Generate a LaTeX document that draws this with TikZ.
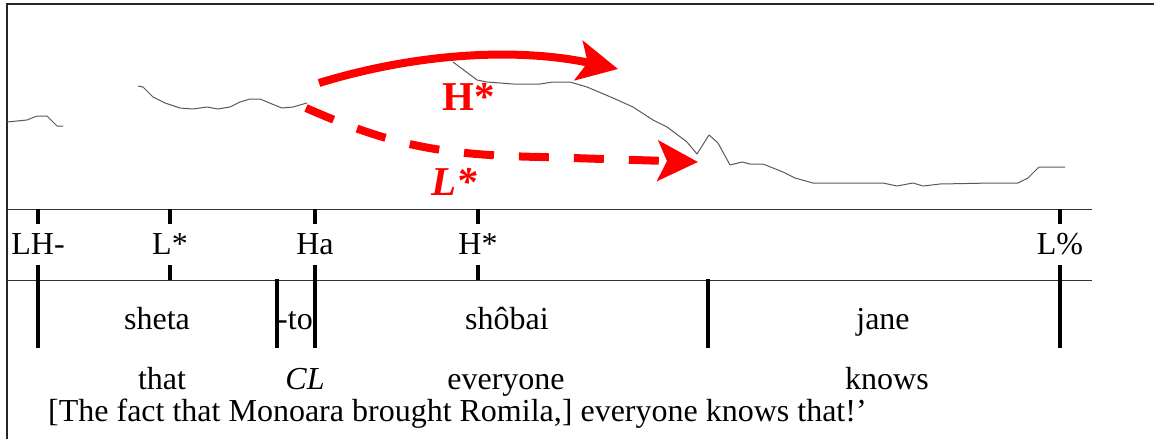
\documentclass[tikz,border=0pt]{standalone}
\usepackage{fontspec}
\setmainfont{Liberation Serif}
\usetikzlibrary{arrows.meta}
\begin{document}
\begin{tikzpicture}[x=1pt,y=-1pt,
  lbl/.style={anchor=base,inner sep=0pt,font=\fontsize{32}{36}\selectfont},
  tone/.style={lbl},
  bar/.style={line width=3.5pt,black},
  tier/.style={line width=1pt,black!80},
  contour/.style={line width=1pt,black!65,line join=round},
  redarrow/.style={red,line width=8pt,-{Stealth[length=40pt,width=40pt,inset=9pt]}},
  redlbl/.style={anchor=base,inner sep=0pt,red,font=\fontsize{41}{44}\selectfont\bfseries}]
\useasboundingbox (0,0) rectangle (1154,439);
% frame
\draw[line width=2pt,black!85] (7,439) -- (7,4) -- (1154,4);
% tiers
\draw[tier] (7,209) -- (1092,209);
\draw[tier] (7,280) -- (1092,280);
% pitch contour
\draw[contour] (7,122) -- (27,120) -- (37,116) -- (47,116) -- (57,126) -- (63,126);
\draw[contour] (138,86) -- (143,87) -- (153,97) -- (165,103) -- (180,108) -- (193,109) -- (207,107) -- (218,109) -- (230,107) -- (240,102) -- (250,99) -- (260,99) -- (272,104) -- (282,108) -- (293,107) -- (307,103);
\draw[contour] (453,62) -- (477,80) -- (487,82) -- (513,84) -- (540,84) -- (553,82) -- (570,82) -- (587,87) -- (613,98) -- (633,107) -- (653,120) -- (667,127) -- (687,142) -- (697,154) -- (709,135) -- (718,143) -- (730,165) -- (742,162) -- (750,164) -- (763,164) -- (783,172) -- (795,178) -- (813,183) -- (883,183) -- (897,186) -- (913,183) -- (923,186) -- (940,184) -- (993,183) -- (1018,183) -- (1028,178) -- (1039,167) -- (1065,167);
% tone labels
\node[tone] (tLH) at (38,254) {LH-};
\node[tone] (tL) at (170,254) {L*};
\node[tone] (tHa) at (315,254) {Ha};
\node[tone] (tH) at (478,254) {H*};
\node[tone] (tLp) at (1060,254) {L\%};
% upper ticks
\foreach \n/\x in {tLH/38,tL/170,tHa/315,tH/478,tLp/1060}{
  \coordinate (\n-a) at (\x,209);
  \coordinate (\n-b) at (\x,224);
  \draw[bar] (\n-a) -- (\n-b);
}
% lower ticks (short)
\foreach \n/\x in {tL/170,tH/478}{
  \coordinate (\n-c) at (\x,265);
  \coordinate (\n-d) at (\x,280);
  \draw[bar] (\n-c) -- (\n-d);
}
% long bars
\foreach \n/\x in {tLH/38,tHa/315,tLp/1060}{
  \coordinate (\n-c) at (\x,265);
  \coordinate (\n-e) at (\x,348);
  \draw[bar] (\n-c) -- (\n-e);
}
\foreach \n/\x in {wto/277,wjane/708}{
  \coordinate (\n-top) at (\x,279);
  \coordinate (\n-bot) at (\x,348);
  \draw[bar] (\n-top) -- (\n-bot);
}
% words
\node[lbl] (sheta) at (157,329) {sheta};
\node[lbl,anchor=base west] (to) at (277,329) {-to};
\node[lbl] (shobai) at (507,329) {shôbai};
\node[lbl] (jane) at (883,329) {jane};
\node[lbl] (that) at (162,389) {that};
\node[lbl] (cl) at (305,389) {\itshape CL};
\node[lbl] (everyone) at (506,389) {everyone};
\node[lbl] (knows) at (887,389) {knows};
\node[lbl,anchor=base west] (trans) at (48,421) {[The fact that Monoara brought Romila,] everyone knows that!’};
% red arrows
\coordinate (hs) at (319,83);
\coordinate (he) at (618,69);
\draw[redarrow] (hs) .. controls (420,52) and (520,48) .. (he);
\coordinate (ls) at (306,108);
\coordinate (le) at (698,162);
\draw[redarrow,dash pattern=on 30pt off 25pt] (ls) .. controls (390,145) and (440,155) .. (540,157) -- (le);
\node[redlbl] (Hstar) at (469,110) {H*};
\node[redlbl] (Lstar) at (454,195) {\itshape L*};
\end{tikzpicture}
\end{document}
